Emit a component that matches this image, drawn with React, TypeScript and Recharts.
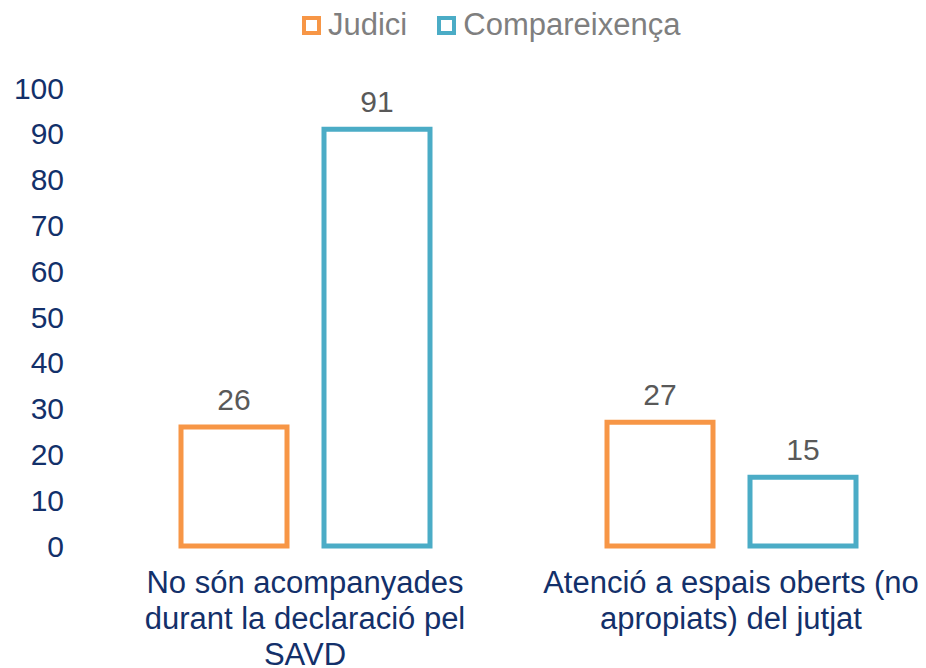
import { BarChart, Bar, XAxis, YAxis, LabelList } from "recharts";

const categories = [
  ["No són acompanyades", "durant la declaració pel", "SAVD"],
  ["Atenció a espais oberts (no", "apropiats) del jutjat"],
];
const judici = [26, 27];
const compareixenca = [91, 15];
const yTicks = [0, 10, 20, 30, 40, 50, 60, 70, 80, 90, 100];

const data = categories.map((lines, i) => ({
  name: lines.join(" "),
  lines,
  judici: judici[i],
  compareixenca: compareixenca[i],
}));

const ORANGE = "#F79646";
const BLUE = "#4BACC6";
const NAVY = "#13306A";
const FONT = "'Liberation Sans', Arial, sans-serif";

function CategoryTick(props: any) {
  const { x, y, index } = props;
  const lines = data[index]?.lines ?? [];
  return (
    <text x={x} y={y} textAnchor="middle" fill={NAVY} fontSize={31} fontFamily={FONT}>
      {lines.map((l: string, i: number) => (
        <tspan key={i} x={x} y={y + 47 + i * 36}>
          {l}
        </tspan>
      ))}
    </text>
  );
}

function LegendBox() {
  const items = [
    { label: "Judici", color: ORANGE },
    { label: "Compareixença", color: BLUE },
  ];
  return (
    <div style={{ position: "absolute", top: 7, left: 302, display: "flex", fontFamily: FONT }}>
      {items.map((it) => (
        <div key={it.label} style={{ display: "flex", alignItems: "center", marginRight: 30 }}>
          <div
            style={{
              width: 11,
              height: 11,
              border: `4.5px solid ${it.color}`,
              marginRight: 7,
            }}
          />
          <span style={{ fontSize: 31, color: "#7F7F7F", lineHeight: "36px" }}>{it.label}</span>
        </div>
      ))}
    </div>
  );
}

export default function App() {
  return (
    <div
      style={{
        position: "absolute",
        top: 0,
        left: 0,
        width: 926,
        height: 668,
        overflow: "hidden",
        background: "#fff",
      }}
    >
      <BarChart
        width={944}
        height={668}
        data={data}
        margin={{ top: 88, right: 0, bottom: 0, left: 0 }}
        barSize={106}
        barGap={37}
      >
        <XAxis
          dataKey="name"
          axisLine={false}
          tickLine={false}
          tickSize={0}
          tickMargin={0}
          height={122}
          interval={0}
          tick={<CategoryTick />}
        />
        <YAxis
          domain={[0, 100]}
          ticks={yTicks}
          width={92}
          axisLine={false}
          tickLine={false}
          tickSize={0}
          tickMargin={28}
          tick={{ fill: NAVY, fontSize: 30, fontFamily: FONT }}
        />
        <Bar dataKey="judici" fill="#fff" stroke={ORANGE} strokeWidth={5} isAnimationActive={false}>
          <LabelList dataKey="judici" position="top" offset={17} fill="#595959" fontSize={30} fontFamily={FONT} />
        </Bar>
        <Bar dataKey="compareixenca" fill="#fff" stroke={BLUE} strokeWidth={5} isAnimationActive={false}>
          <LabelList dataKey="compareixenca" position="top" offset={17} fill="#595959" fontSize={30} fontFamily={FONT} />
        </Bar>
      </BarChart>
      <LegendBox />
    </div>
  );
}
